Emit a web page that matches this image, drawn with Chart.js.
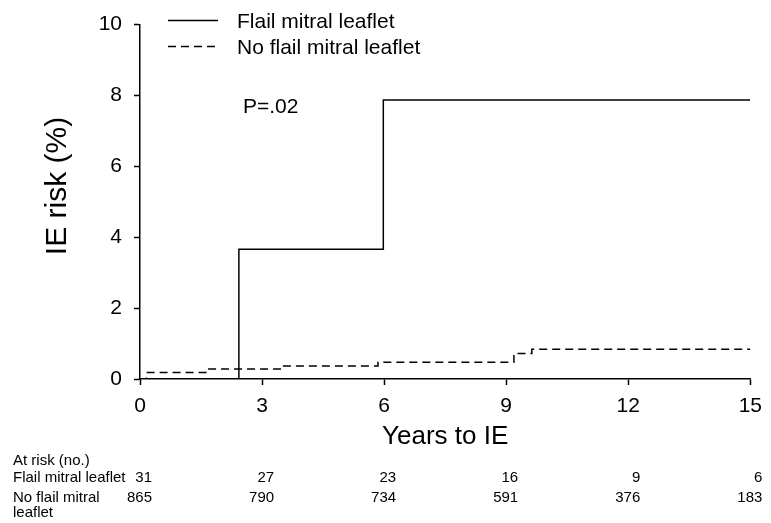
<!DOCTYPE html>
<html>
<head>
<meta charset="utf-8">
<script src="https://cdn.jsdelivr.net/npm/chart.js@4"></script>
<style>
  body { margin: 0; background: #fff; }
  #wrap { width: 771px; height: 523px; position: relative; }
</style>
</head>
<body>
<div id="wrap"><canvas id="chart"></canvas></div>
<script>
// Kaplan-Meier style cumulative IE risk
const flailTimes = [0, 2.43, 5.98, 15];
const flailRisk = [0, 3.66, 7.87, 7.87];
const noFlailTimes = [0, 0.16, 1.67, 3.48, 5.85, 9.19, 9.63, 15];
const noFlailRisk = [0, 0.18, 0.28, 0.37, 0.47, 0.72, 0.84, 0.84];

const seriesNames = ['Flail mitral leaflet', 'No flail mitral leaflet'];

// numbers at risk table
const riskYears = [0, 3, 6, 9, 12, 15];
const flailAtRisk = [31, 27, 23, 16, 9, 6];
const noFlailAtRisk = [865, 790, 734, 591, 376, 183];
const riskRowLabels = ['Flail mitral leaflet', 'No flail mitral', 'leaflet'];

const FONT = '"Liberation Sans", Arial, sans-serif';

function toPoints(xs, ys) {
  return xs.map((x, i) => ({ x: x, y: ys[i] }));
}

// legend, p-value, axis titles and the at-risk table
const annotations = {
  id: 'annotations',
  afterDraw(chart) {
    const ctx = chart.ctx;
    const area = chart.chartArea;
    const xScale = chart.scales.x;
    ctx.save();
    ctx.fillStyle = '#000';
    ctx.strokeStyle = '#000';

    // legend
    const rows = [20.5, 46.5];
    chart.data.datasets.forEach((ds, i) => {
      ctx.lineWidth = 1.5;
      ctx.setLineDash(ds.borderDash || []);
      ctx.beginPath();
      ctx.moveTo(168, rows[i]);
      ctx.lineTo(218, rows[i]);
      ctx.stroke();
      ctx.setLineDash([]);
      ctx.font = '21px ' + FONT;
      ctx.textBaseline = 'alphabetic';
      ctx.textAlign = 'left';
      ctx.fillText(ds.label, 237, rows[i] + 7.5);
    });

    // p value
    ctx.font = '21px ' + FONT;
    ctx.fillText('P=.02', 243, 113);

    // x title
    ctx.font = '26px ' + FONT;
    ctx.textAlign = 'center';
    ctx.textBaseline = 'middle';
    ctx.fillText('Years to IE', (area.left + area.right) / 2, 437);

    // y title
    ctx.save();
    ctx.translate(58, 186);
    ctx.rotate(-Math.PI / 2);
    ctx.font = '30px ' + FONT;
    ctx.fillText('IE risk (%)', 0, 0);
    ctx.restore();

    // at risk table
    ctx.font = '15px ' + FONT;
    ctx.textAlign = 'left';
    ctx.textBaseline = 'alphabetic';
    ctx.fillText('At risk (no.)', 13, 465);
    ctx.fillText(riskRowLabels[0], 13, 482);
    ctx.fillText(riskRowLabels[1], 13, 502);
    ctx.fillText(riskRowLabels[2], 13, 517);
    ctx.textAlign = 'right';
    riskYears.forEach((yr, i) => {
      const px = xScale.getPixelForValue(yr) + 12;
      ctx.fillText(String(flailAtRisk[i]), px, 482);
      ctx.fillText(String(noFlailAtRisk[i]), px, 502);
    });
    ctx.restore();
  }
};

const ctx = document.getElementById('chart').getContext('2d');
const chart = new Chart(ctx, {
  type: 'line',
  data: {
    datasets: [{
      label: seriesNames[0],
      data: toPoints(flailTimes, flailRisk),
      borderColor: '#000',
      borderWidth: 1.5,
      stepped: 'before',
      pointRadius: 0,
      fill: false
    }, {
      label: seriesNames[1],
      data: toPoints(noFlailTimes, noFlailRisk),
      borderColor: '#000',
      borderWidth: 1.5,
      borderDash: [8, 5],
      stepped: 'before',
      pointRadius: 0,
      fill: false
    }]
  },
  options: {
    responsive: true,
    maintainAspectRatio: false,
    animation: false,
    layout: {
      padding: { left: 0, top: 20, right: 17, bottom: 0 }
    },
    plugins: {
      legend: { display: false },
      tooltip: { enabled: false }
    },
    scales: {
      x: {
        type: 'linear',
        min: 0,
        max: 15,
        afterFit: (scale) => { scale.height = 144; },
        border: { color: '#000', width: 1.5 },
        grid: { drawOnChartArea: false, drawTicks: true, tickLength: 6, tickColor: '#000', tickWidth: 1.5 },
        ticks: {
          stepSize: 3,
          color: '#000',
          padding: 9,
          maxRotation: 0,
          font: { family: FONT, size: 21 }
        }
      },
      y: {
        min: 0,
        max: 10,
        afterFit: (scale) => { scale.width = 140; },
        border: { color: '#000', width: 1.5 },
        grid: { drawOnChartArea: false, drawTicks: true, tickLength: 6, tickColor: '#000', tickWidth: 1.5 },
        ticks: {
          stepSize: 2,
          color: '#000',
          padding: 12,
          font: { family: FONT, size: 21 }
        }
      }
    }
  },
  plugins: [annotations]
});
</script>
</body>
</html>
